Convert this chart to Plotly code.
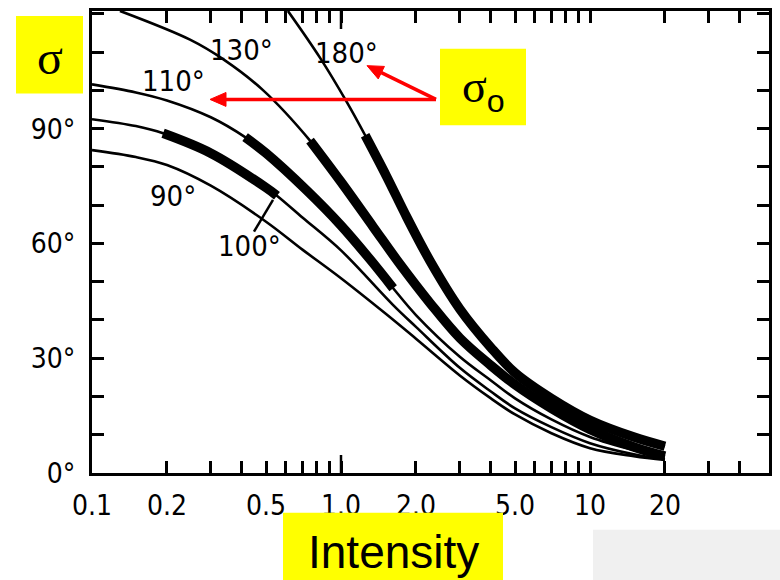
import math
import plotly.graph_objects as go

# Sigma (degrees) versus intensity, one curve per contact angle.
# Each thick stretch marks the sigma_o range of that curve.
x_090 = [0.1, 0.15, 0.2, 0.3, 0.5, 0.7, 1.0, 1.5, 2.0, 3.0, 4.0, 5.0, 7.0, 10.0, 15.0, 20.0]
y_090 = [84.4, 82.6, 80.5, 75.1, 65.7, 58.4, 50.9, 41.8, 35.1, 25.5, 19.5, 15.3, 10.4, 6.5, 4.4, 3.4]

x_100 = [0.1, 0.15, 0.193, 0.3, 0.5, 0.553, 0.7, 1.0, 1.62, 2.0, 3.0, 4.0, 5.0, 7.0, 10.0, 15.0, 20.0]
y_100 = [92.5, 90.7, 88.8, 83.6, 74.6, 72.5, 66.8, 58.2, 43.9, 38.2, 27.5, 21.3, 16.9, 12.0, 7.8, 4.9, 3.6]
thick_100 = (0.193, 0.553)

x_110 = [0.1, 0.15, 0.2, 0.3, 0.412, 0.5, 0.73, 1.0, 1.31, 1.62, 2.0, 3.0, 4.0, 5.0, 7.0, 10.0, 15.0, 20.0]
y_110 = [101.6, 99.5, 97.4, 93.0, 87.8, 83.6, 73.8, 64.7, 55.8, 48.3, 41.3, 30.4, 24.2, 19.5, 14.0, 9.4, 6.0, 4.2]
thick_110 = (0.412, 1.62)

x_130 = [0.1295, 0.2475, 0.336, 0.486, 0.751, 1.0, 1.345, 1.725, 2.28, 3.0, 4.0, 5.0, 7.0, 10.0, 15.0, 20.0]
y_130 = [120.8, 113.3, 108.2, 100.1, 86.9, 76.1, 64.4, 54.6, 44.4, 35.3, 28.1, 23.1, 16.9, 11.4, 6.8, 4.4]
thick_130 = (0.751, 20.0)

x_180 = [0.612, 0.823, 1.057, 1.25, 1.52, 1.84, 2.28, 3.0, 4.0, 5.0, 7.0, 10.0, 15.0, 20.0]
y_180 = [120.8, 108.6, 96.9, 88.3, 77.7, 66.8, 55.4, 42.9, 32.8, 26.2, 19.5, 13.8, 9.4, 7.0]
thick_180 = (1.25, 20.0)

# Axis ticks
x_label_vals = [0.1, 0.2, 0.5, 1.0, 2.0, 5.0, 10.0, 20.0]
x_label_text = ["0.1", "0.2", "0.5", "1.0", "2.0", "5.0", "10", "20"]
x_minor_vals = [0.3, 0.4, 0.6, 0.7, 0.8, 0.9, 3.0, 4.0, 6.0, 7.0, 8.0, 9.0, 30.0, 40.0]
x_long_ticks = [1.0, 10.0]
y_label_vals = [0, 30, 60, 90]
y_label_text = ["0°", "30°", "60°", "90°"]
y_minor_vals = [10, 20, 40, 50, 70, 80, 100, 110, 120]

W, H = 780, 580
L, R, T, B = 92, 769, 8, 473          # plot frame in pixels
DEC = 249.0                           # pixels per decade on x
Y_PER_DEG = 3.85                      # pixels per degree on y


def px(x):
    return (x - L) / (R - L)


def py(y):
    return (B - y) / (B - T)


NARROW = "DejaVu Sans Condensed, Liberation Sans Narrow, Liberation Sans, Arial"
THIN, THICK = 2.6, 9.5
TICK_W, TICK_LEN, LONG_LEN = 2.5, 12, 18

fig = go.Figure()

curves = [
    (x_090, y_090, None),
    (x_100, y_100, thick_100),
    (x_110, y_110, thick_110),
    (x_130, y_130, thick_130),
    (x_180, y_180, thick_180),
]
for xs, ys, thick in curves:
    fig.add_trace(go.Scatter(x=xs, y=ys, mode="lines",
                             line=dict(color="black", width=THIN, shape="spline"),
                             hoverinfo="skip", showlegend=False))
    if thick:
        idx = [i for i, v in enumerate(xs) if thick[0] <= v <= thick[1]]
        fig.add_trace(go.Scatter(x=[xs[i] for i in idx], y=[ys[i] for i in idx],
                                 mode="lines",
                                 line=dict(color="black", width=THICK, shape="spline"),
                                 hoverinfo="skip", showlegend=False))

x_max_log = (R - L) / DEC - 1
y_max = (B - T) / Y_PER_DEG

fig.update_xaxes(type="log", range=[-1, x_max_log],
                 showline=True, linecolor="black", linewidth=3, mirror="all",
                 ticks="inside", ticklen=TICK_LEN, tickwidth=TICK_W, tickcolor="black",
                 tickvals=x_label_vals, ticktext=x_label_text,
                 tickfont=dict(family=NARROW, size=28, color="black"),
                 ticklabelstandoff=5,
                 minor=dict(tickvals=x_minor_vals, ticks="inside", ticklen=TICK_LEN,
                            tickwidth=TICK_W, tickcolor="black", showgrid=False),
                 showgrid=False, zeroline=False)
fig.update_yaxes(range=[0, y_max],
                 showline=True, linecolor="black", linewidth=3, mirror="all",
                 ticks="inside", ticklen=TICK_LEN, tickwidth=TICK_W, tickcolor="black",
                 tickvals=y_label_vals, ticktext=y_label_text,
                 tickfont=dict(family=NARROW, size=28, color="black"),
                 ticklabelstandoff=8,
                 minor=dict(tickvals=y_minor_vals, ticks="inside", ticklen=TICK_LEN,
                            tickwidth=TICK_W, tickcolor="black", showgrid=False),
                 showgrid=False, zeroline=False)

shapes = []
annotations = []

# longer decade ticks at 1 and 10, bottom and top
for v in x_long_ticks:
    for anchor, sign in [(0, 1), (1, -1)]:
        shapes.append(dict(type="line", xref="x", yref="paper",
                           x0=math.log10(v), x1=math.log10(v),
                           ysizemode="pixel", yanchor=anchor,
                           y0=0, y1=sign * LONG_LEN,
                           line=dict(color="black", width=TICK_W)))


def box(x0, y0, x1, y1, color):
    shapes.append(dict(type="rect", xref="paper", yref="paper",
                       x0=px(x0), x1=px(x1), y0=py(y1), y1=py(y0),
                       fillcolor=color, line=dict(width=0), layer="above"))


def label(x, y, text, size, family=NARROW, color="black"):
    annotations.append(dict(xref="paper", yref="paper", x=px(x), y=py(y),
                            text=text, showarrow=False, xanchor="center",
                            yanchor="middle",
                            font=dict(family=family, size=size, color=color)))


def arrow(tip, tail, color="#ff0000", width=3.5, head_len=16, head_half=7):
    dx, dy = tip[0] - tail[0], tip[1] - tail[1]
    n = math.hypot(dx, dy)
    ux, uy = dx / n, dy / n
    bx, by = tip[0] - ux * head_len, tip[1] - uy * head_len
    shapes.append(dict(type="line", xref="paper", yref="paper",
                       x0=px(tail[0]), y0=py(tail[1]), x1=px(bx), y1=py(by),
                       line=dict(color=color, width=width), layer="above"))
    p1 = (bx - uy * head_half, by + ux * head_half)
    p2 = (bx + uy * head_half, by - ux * head_half)
    path = "M {} {} L {} {} L {} {} Z".format(px(tip[0]), py(tip[1]),
                                             px(p1[0]), py(p1[1]),
                                             px(p2[0]), py(p2[1]))
    shapes.append(dict(type="path", xref="paper", yref="paper", path=path,
                       fillcolor=color, line=dict(color=color, width=1),
                       layer="above"))


# curve labels
label(241, 47, "130°", 29)
label(173, 78, "110°", 29)
label(346, 50, "180°", 29)
label(173, 194, "90°", 29)
label(249, 245, "100°", 29)
shapes.append(dict(type="line", xref="paper", yref="paper",
                   x0=px(254), y0=py(230), x1=px(273), y1=py(198),
                   line=dict(color="black", width=2.5)))

# highlighted boxes
box(16, 13, 83, 91, "#ffff00")
label(50, 55, "σ", 48, family="Liberation Serif, Times New Roman, serif")
box(440, 46, 526, 123, "#ffff00")
label(483, 88, "σ<sub><span style='font-family:Liberation Sans'>o</span></sub>", 46,
      family="Liberation Serif, Times New Roman, serif")
box(283, 513, 503, 590, "#ffff00")
label(393, 553, "Intensity", 46, family="Liberation Sans, Arial, sans-serif")
box(593, 530, 790, 590, "#f0f0f0")

# red arrows from the sigma_o box
arrow((210, 97), (436, 97))
arrow((367, 63), (436, 97))

fig.update_layout(width=W, height=H,
                  margin=dict(l=L, r=W - R, t=T, b=H - B),
                  paper_bgcolor="white", plot_bgcolor="white",
                  shapes=shapes, annotations=annotations)

fig.write_html("out.html")
